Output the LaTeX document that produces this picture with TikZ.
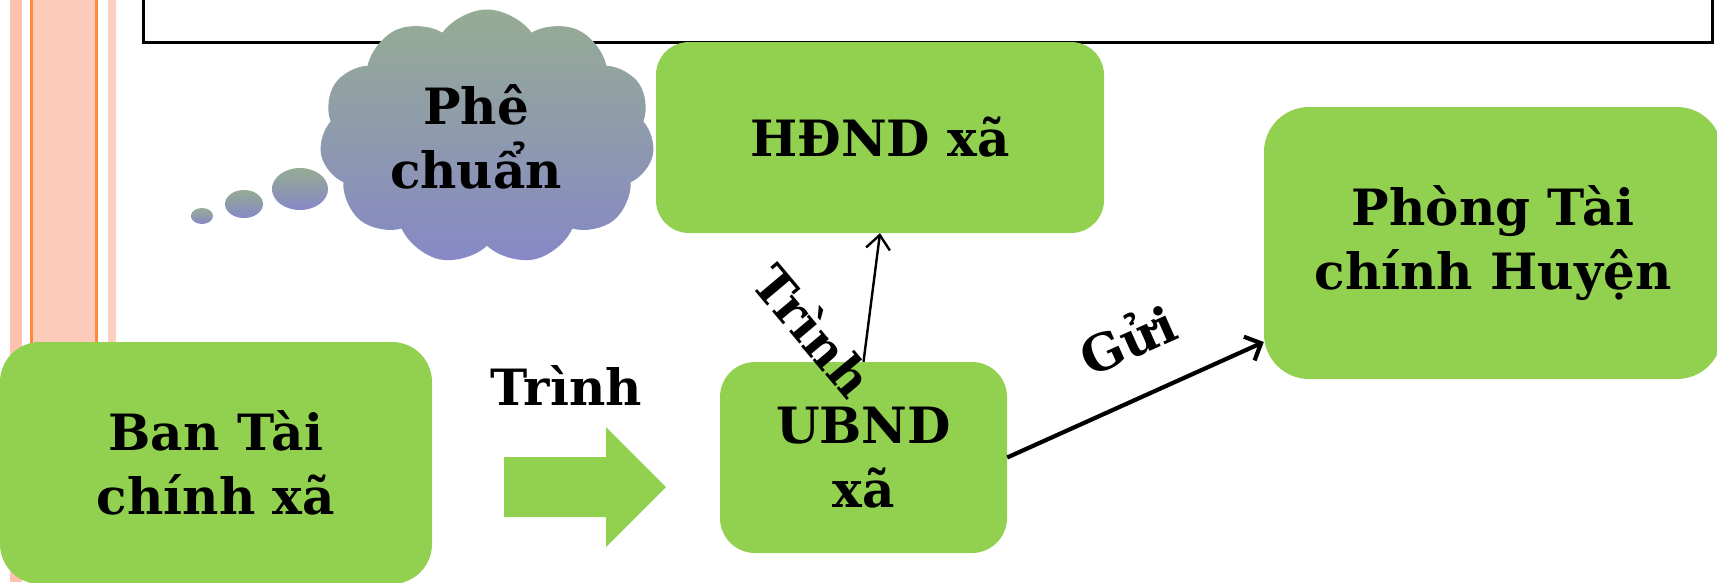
\documentclass[tikz,border=0pt]{standalone}
\usepackage{fontspec}
\setmainfont{DejaVu Serif}
\usetikzlibrary{shapes.symbols,arrows.meta}
\definecolor{boxgreen}{RGB}{146,208,80}
\definecolor{cloudtop}{RGB}{150,172,148}
\definecolor{cloudbot}{RGB}{134,136,198}
\definecolor{stripelight}{RGB}{253,195,176}
\definecolor{stripelight2}{RGB}{252,208,192}
\definecolor{stripefill}{RGB}{253,203,186}
\definecolor{stripeorange}{RGB}{255,138,58}
\begin{document}
\begin{tikzpicture}[x=1pt,y=-1pt,
  bigfont/.style={font=\bfseries\fontsize{50}{64}\selectfont},
  greenbox/.style={bigfont, draw=none, fill=boxgreen, inner sep=0pt, align=center},
  lbl/.style={bigfont, inner sep=0pt},
  cloudnode/.style={bigfont, cloud, cloud puffs=11, cloud puff arc=110, aspect=1.3,
     minimum width=335pt, minimum height=255pt, inner sep=0pt, align=center,
     top color=cloudtop, bottom color=cloudbot, draw=none},
  bubble/.style={top color=cloudtop, bottom color=cloudbot, draw=none},
  thinarrow/.style={line width=2.4pt, -{Straight Barb[length=14pt,width=24pt]}},
  thickarrow/.style={line width=4.2pt, -{Straight Barb[length=13pt,width=26pt]}}
]
\useasboundingbox (0,0) rectangle (1717,582);
\fill[white] (0,0) rectangle (1717,582);
% left stripes
\fill[stripelight] (10,0) rectangle (22,582);
\fill[stripefill] (30,0) rectangle (98,582);
\fill[stripeorange] (30,0) rectangle (33,582);
\fill[stripeorange] (95,0) rectangle (98,582);
\fill[stripelight2] (108,0) rectangle (116,582);
% top frame
\draw[line width=3pt, fill=white] (143,-10) rectangle (1712,42);
% boxes
\node[greenbox, rounded corners=40pt, minimum width=432pt, minimum height=242pt] (ban) at (216,463) {Ban Tài\\chính xã};
\node[greenbox, rounded corners=35pt, minimum width=287pt, minimum height=191pt] (ubnd) at (863.5,457.5) {UBND\\xã};
\node[greenbox, rounded corners=33pt, minimum width=448pt, minimum height=191pt] (hdnd) at (880,137.5) {HĐND xã};
\node[greenbox, rounded corners=45pt, minimum width=458pt, minimum height=272pt] (phong) at (1493,243) {Phòng Tài\\chính Huyện};
% cloud
\node[cloudnode] (cloud) at (487,137) {Phê\hspace*{22pt}\\chuẩn\hspace*{22pt}};
\shade[bubble] (300,189) ellipse [x radius=28pt, y radius=21pt];
\shade[bubble] (244,204) ellipse [x radius=19pt, y radius=14pt];
\shade[bubble] (202,216) ellipse [x radius=11pt, y radius=8pt];
% block arrow
\fill[boxgreen] (504,457) -- (606,457) -- (606,427) -- (666,487) -- (606,547) -- (606,517) -- (504,517) -- cycle;
\node[lbl, anchor=base] (trinh1) at (566,405) {Trình};
% connectors
\draw[thinarrow] (ubnd.north) -- (hdnd.south);
\node[lbl, rotate=-50] (trinh2) at (814,330) {Trình};
\draw[thickarrow] (ubnd.east) -- ([yshift=-99pt]phong.west);
\node[lbl, rotate=24] (gui) at (1127,338) {Gửi};
\end{tikzpicture}
\end{document}
